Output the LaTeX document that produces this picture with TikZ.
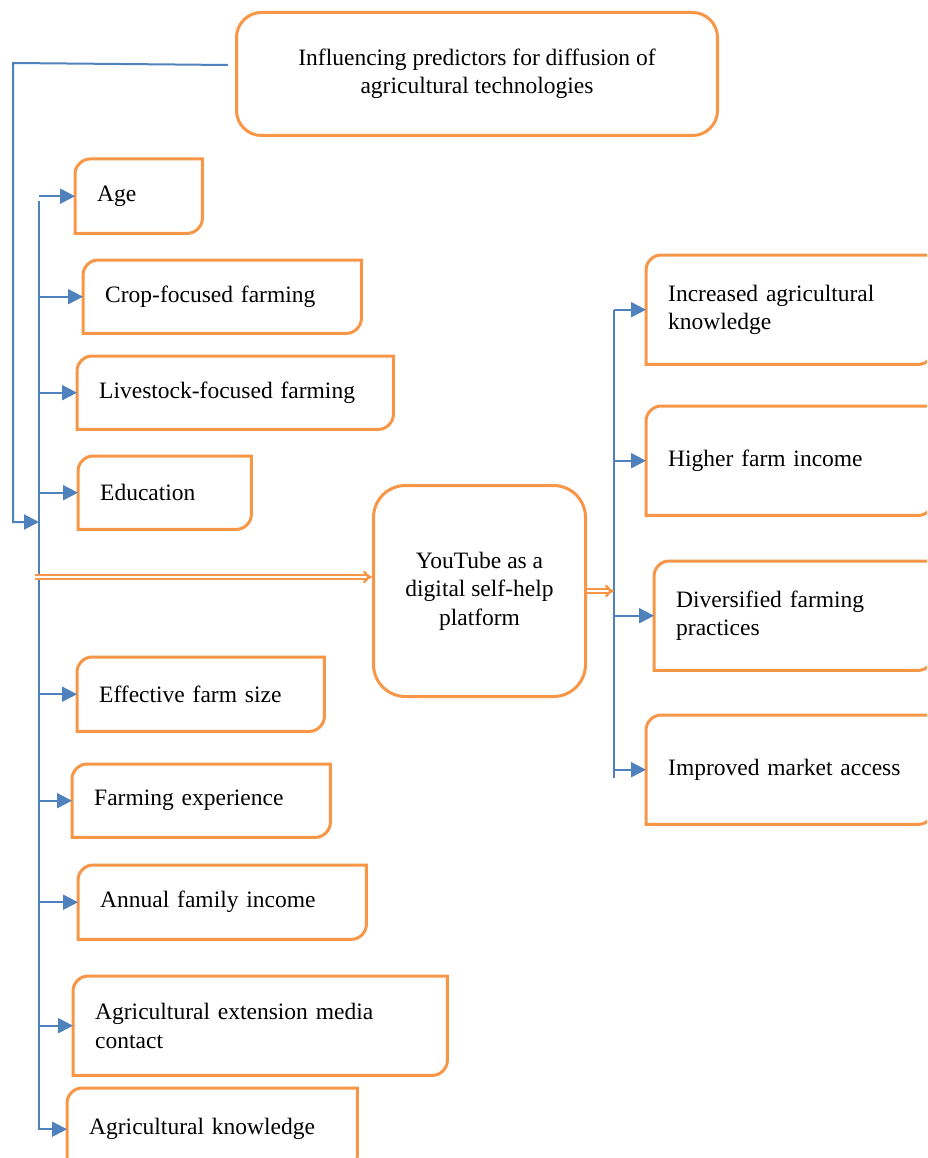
\documentclass[tikz,border=0pt]{standalone}
\usepackage{fontspec}
\setmainfont{Liberation Serif}
\usetikzlibrary{arrows.meta,calc}

\definecolor{boxorange}{HTML}{F79646}
\definecolor{linkblue}{HTML}{4F81BD}

% outline with rounded top-left and bottom-right corners
\newcommand\cutframe[1]{%
  \draw[orangeedge] ($(#1.north west)+(0,15)$) .. controls ($(#1.north west)+(0,7)$) and ($(#1.north west)+(7,0)$) .. ($(#1.north west)+(15,0)$)
    -- (#1.north east) -- ($(#1.south east)+(0,-15)$) .. controls ($(#1.south east)+(0,-7)$) and ($(#1.south east)+(-7,0)$) .. ($(#1.south east)+(-15,0)$)
    -- (#1.south west) -- cycle;}

\begin{document}
\begin{tikzpicture}[
    x=1pt, y=-1pt,
    every node/.style={font=\fontsize{23.5}{28.5}\selectfont, inner sep=0pt},
    box/.style={anchor=north west, align=left, inner xsep=22pt},
    orangeedge/.style={draw=boxorange, line width=3pt},
    link/.style={draw=linkblue, line width=2pt, -{Triangle[length=15pt,width=15pt]}},
    flow/.style={draw=boxorange, line width=2.4pt, double=white, double distance=1.5pt, -{Implies}}]

    \useasboundingbox (0,0) rectangle (927,1158);
    \clip (0,0) rectangle (927,1158);

    % Title
    \node[orangeedge, rounded corners=25pt, anchor=north west, align=center,
          minimum width=481pt, minimum height=123pt] (top) at (235,11)
          {Influencing predictors for diffusion of\\agricultural technologies};

    % Hub
    \node[orangeedge, rounded corners=32pt, anchor=north west, align=center,
          minimum width=212pt, minimum height=211pt] (hub) at (372,484)
          {YouTube as a\\digital self-help\\platform};

    % Predictors
    \coordinate (ltop) at (39,201);
    \coordinate (lbot) at (39,1130);
    \draw[linkblue, line width=2pt] (ltop) -- (lbot);

    \foreach \n/\xa/\ya/\xb/\yb/\txt in {
        age/75/159/202/233/{Age},
        crop/83/260/361/333/{Crop-focused farming},
        stock/77/356/393/429/{Livestock-focused farming},
        edu/78/456/251/529/{Education},
        size/77/657/324/731/{Effective farm size},
        exper/72/764/330/837/{Farming experience},
        income/78/865/366/939/{Annual family income},
        media/73/976/447/1075/{Agricultural extension media\\contact},
        know/67/1088/357/1170/{Agricultural knowledge}} {
      \pgfmathsetmacro\w{\xb-\xa-44}
      \pgfmathsetmacro\h{\yb-\ya}

      % Predictor box
      \node[box, text width=\w pt, minimum height=\h pt] (\n) at (\xa,\ya) {\txt};
      \cutframe{\n}
      \draw[link] (ltop |- \n.west) -- (\n.west);
    }

    % Title to predictors
    \coordinate (tl) at (13,63);
    \coordinate (tb) at (13,522);
    \draw[link] ([xshift=-7pt,yshift=9pt]top.west) -- (tl) -- (tb) -- (ltop |- tb);

    % Predictors to hub
    \coordinate (fin) at (35,577);
    \draw[flow] (fin) -- (fin -| hub.west);

    % Outcomes
    \coordinate (rtop) at (614,310);
    \coordinate (rbot) at (614,778);
    \draw[linkblue, line width=2pt] (rtop) -- (rbot);
    \draw[flow] (hub.east) -- (rtop |- hub.east);

    \foreach \n/\xa/\ya/\txt in {
        gain/646/255/{Increased agricultural\\knowledge},
        money/646/406/{Higher farm income},
        mix/654/561/{Diversified farming\\practices},
        market/646/715/{Improved market access}} {
      \pgfmathsetmacro\w{933-\xa-44}

      % Outcome box
      \node[box, text width=\w pt, minimum height=109pt] (\n) at (\xa,\ya) {\txt};
      \cutframe{\n}
      \draw[link] (rtop |- \n.west) -- (\n.west);
    }
\end{tikzpicture}
\end{document}
